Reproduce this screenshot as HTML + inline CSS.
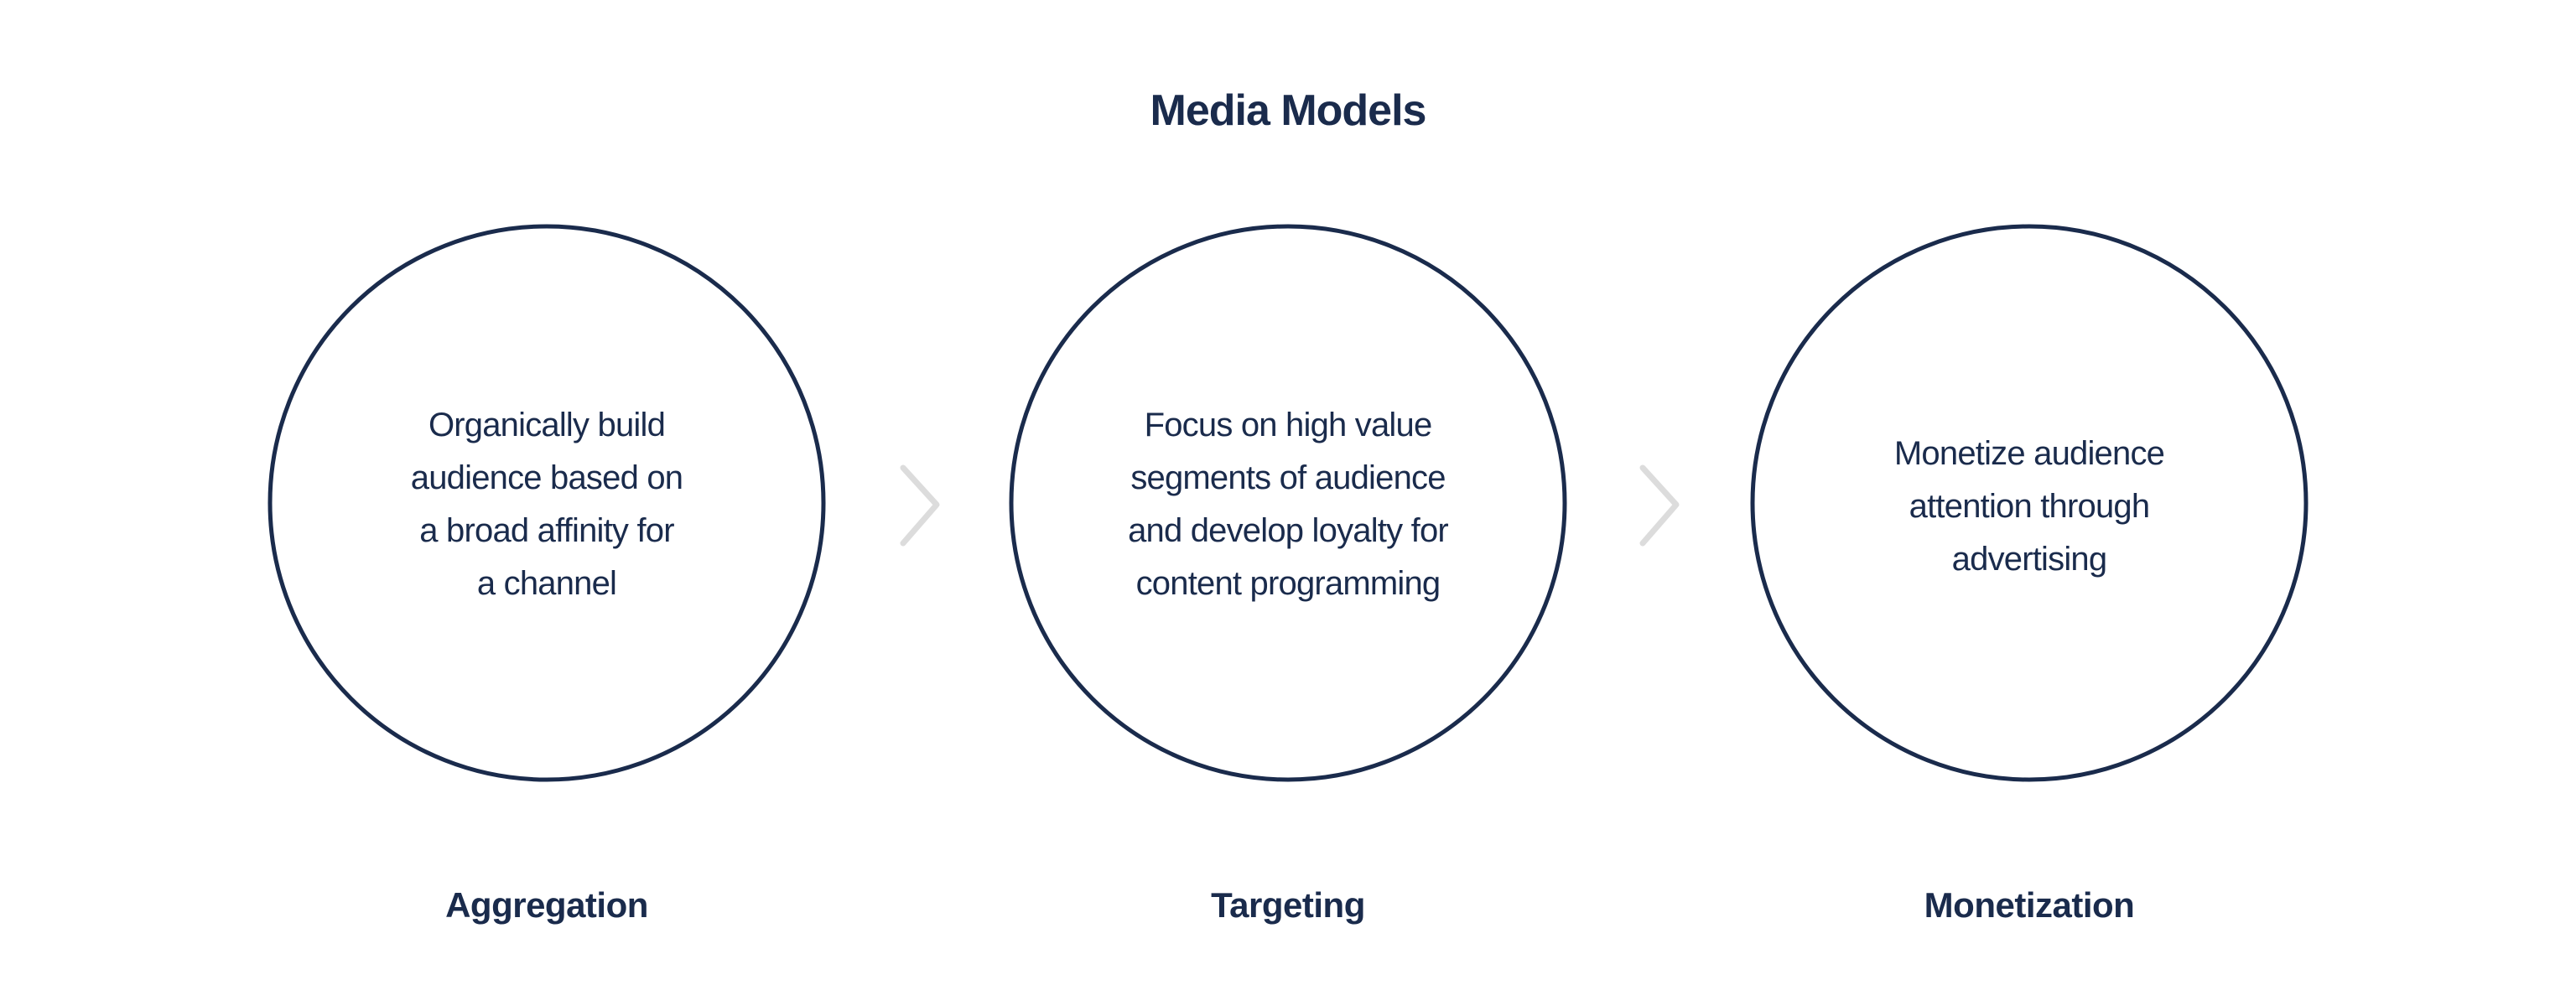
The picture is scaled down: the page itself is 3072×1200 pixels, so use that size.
<!DOCTYPE html>
<html><head><meta charset="utf-8"><style>
html,body{margin:0;padding:0;background:#fff;}
body{width:3072px;height:1200px;position:relative;overflow:hidden;font-family:"Liberation Sans",sans-serif;color:#1a2b4c;}
.t{position:absolute;text-align:center;}
.title{left:1036px;width:1000px;top:102px;font-size:52px;font-weight:bold;letter-spacing:-1px;}
.lab{top:1056px;width:600px;font-size:42px;font-weight:bold;letter-spacing:-0.5px;}
.body{width:600px;font-size:40px;line-height:63px;letter-spacing:-0.8px;}
</style></head><body>
<svg width="3072" height="1200" style="position:absolute;left:0;top:0">
<g fill="none" stroke="#1a2b4c" stroke-width="5">
<circle cx="652" cy="600" r="330"/>
<circle cx="1536" cy="600" r="330"/>
<circle cx="2420" cy="600" r="330"/>
</g>
<g fill="none" stroke="#dcdcdc" stroke-width="7" stroke-linecap="round" stroke-linejoin="round">
<polyline points="1077,558 1117,602 1077,648"/>
<polyline points="1959,558 1999,602 1959,648"/>
</g>
</svg>
<div class="t title">Media Models</div>
<div class="t body" style="left:352px;top:476px">Organically build<br>audience based on<br>a broad affinity for<br>a channel</div>
<div class="t body" style="left:1236px;top:476px">Focus on high value<br>segments of audience<br>and develop loyalty for<br>content programming</div>
<div class="t body" style="left:2120px;top:510px">Monetize audience<br>attention through<br>advertising</div>
<div class="t lab" style="left:352px">Aggregation</div>
<div class="t lab" style="left:1236px">Targeting</div>
<div class="t lab" style="left:2120px">Monetization</div>
</body></html>
